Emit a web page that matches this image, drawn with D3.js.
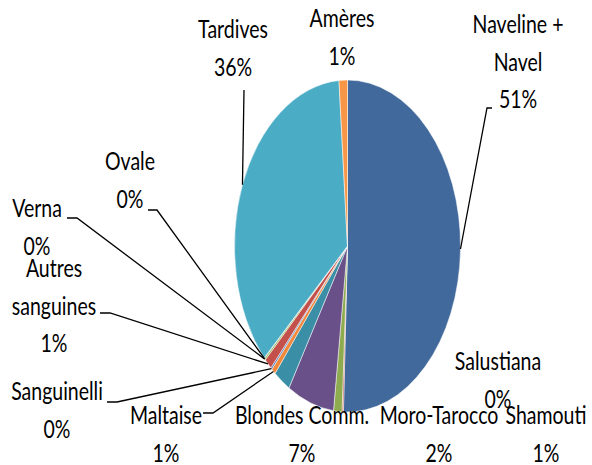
<!DOCTYPE html>
<html>
<head>
<meta charset="utf-8">
<script src="https://cdn.jsdelivr.net/npm/d3@7"></script>
<style>
  html, body { margin: 0; padding: 0; background: #fff; }
  svg { display: block; }
  text { font-family: Lato, "Open Sans", sans-serif; fill: #000; }
</style>
</head>
<body>
<div id="chart"></div>
<script>
// ---- Data (clockwise from 12 o'clock) ----
const categories = ["Naveline + Navel", "Salustiana", "Shamouti", "Blondes Comm.", "Moro-Tarocco",
  "Maltaise", "Sanguinelli", "Autres sanguines", "Verna", "Ovale", "Tardives", "Amères"];
const values = [50.6, 0.2, 1.2, 6.7, 2.4, 0.6, 0.2, 1.1, 0.2, 0.05, 35.6, 1.2];
const colors = ["#41699B", "#C0504D", "#8EAB4F", "#6A5088", "#3A8FA6",
  "#F0873A", "#4F81BD", "#C4504C", "#9BBB59", "#8064A2", "#4BACC6", "#F79646"];

// ---- Layout ----
const W = 592, H = 465;
const cx = 347.5, cy = 246, rx = 113, ry = 166;
const fontSize = 19.5, stretchY = 1.3, lineGap = 37.5;
// label anchor (centre x, first baseline y), whether wrapped, and leader tick
const labelLayout = {
  "Naveline + Navel": { x: 518, y: 33, wrap: true, tick: [492, 487, 108] },
  "Salustiana":       { x: 498, y: 370 },
  "Shamouti":         { x: 546, y: 424 },
  "Blondes Comm.":    { x: 302, y: 424 },
  "Moro-Tarocco":     { x: 439, y: 424 },
  "Maltaise":         { x: 166, y: 424, tick: [203, 213, 413] },
  "Sanguinelli":      { x: 57,  y: 400, tick: [107, 117, 402] },
  "Autres sanguines": { x: 54,  y: 277, wrap: true, tick: [100, 110, 313] },
  "Verna":            { x: 37,  y: 217, tick: [67, 77, 218] },
  "Ovale":            { x: 130, y: 170, tick: [148, 157, 210] },
  "Tardives":         { x: 233, y: 38,  tick: [244, 244, 90] },
  "Amères":           { x: 342, y: 27 }
};

const svg = d3.select("#chart").append("svg").attr("width", W).attr("height", H);

const total = d3.sum(values);
const data = categories.map((c, i) => ({ name: c, value: values[i], color: colors[i] }));
const pie = d3.pie().sort(null).value(d => d.value).startAngle(0).endAngle(2 * Math.PI);
const arcs = pie(data);
const arc = d3.arc().innerRadius(0).outerRadius(rx);

const gPie = svg.append("g").attr("transform", `translate(${cx},${cy}) scale(1,${ry / rx})`);
gPie.selectAll("path").data(arcs).join("path")
  .attr("d", arc)
  .attr("fill", d => d.data.color)
  .attr("stroke", "#ffffff")
  .attr("stroke-width", 0.5)
  .attr("vector-effect", "non-scaling-stroke");

// point on the (elliptical) pie edge at the slice's mid angle
function edgePoint(d) {
  const a = (d.startAngle + d.endAngle) / 2;
  return [cx + rx * Math.sin(a), cy - ry * Math.cos(a)];
}

// leader lines
const gLines = svg.append("g");
arcs.forEach(d => {
  const L = labelLayout[d.data.name];
  if (!L || !L.tick) return;
  const [x1, x2, y] = L.tick;
  const p = edgePoint(d);
  gLines.append("path")
    .attr("d", d3.line()([[x1, y], [x2, y], p]))
    .attr("fill", "none")
    .attr("stroke", "#000")
    .attr("stroke-width", 1.3);
});

// labels
const gLab = svg.append("g");
arcs.forEach(d => {
  const L = labelLayout[d.data.name];
  if (!L) return;
  const name = d.data.name;
  let lines;
  if (L.wrap) {
    const k = name.lastIndexOf(" ");
    lines = [name.slice(0, k), name.slice(k + 1)];
  } else {
    lines = [name];
  }
  lines.push(Math.round(d.data.value / total * 100) + "%");
  lines.forEach((t, i) => {
    gLab.append("text")
      .attr("transform", `translate(${L.x},${L.y + i * lineGap}) scale(1,${stretchY})`)
      .attr("text-anchor", "middle")
      .attr("font-size", fontSize)
      .text(t);
  });
});
</script>
</body>
</html>
